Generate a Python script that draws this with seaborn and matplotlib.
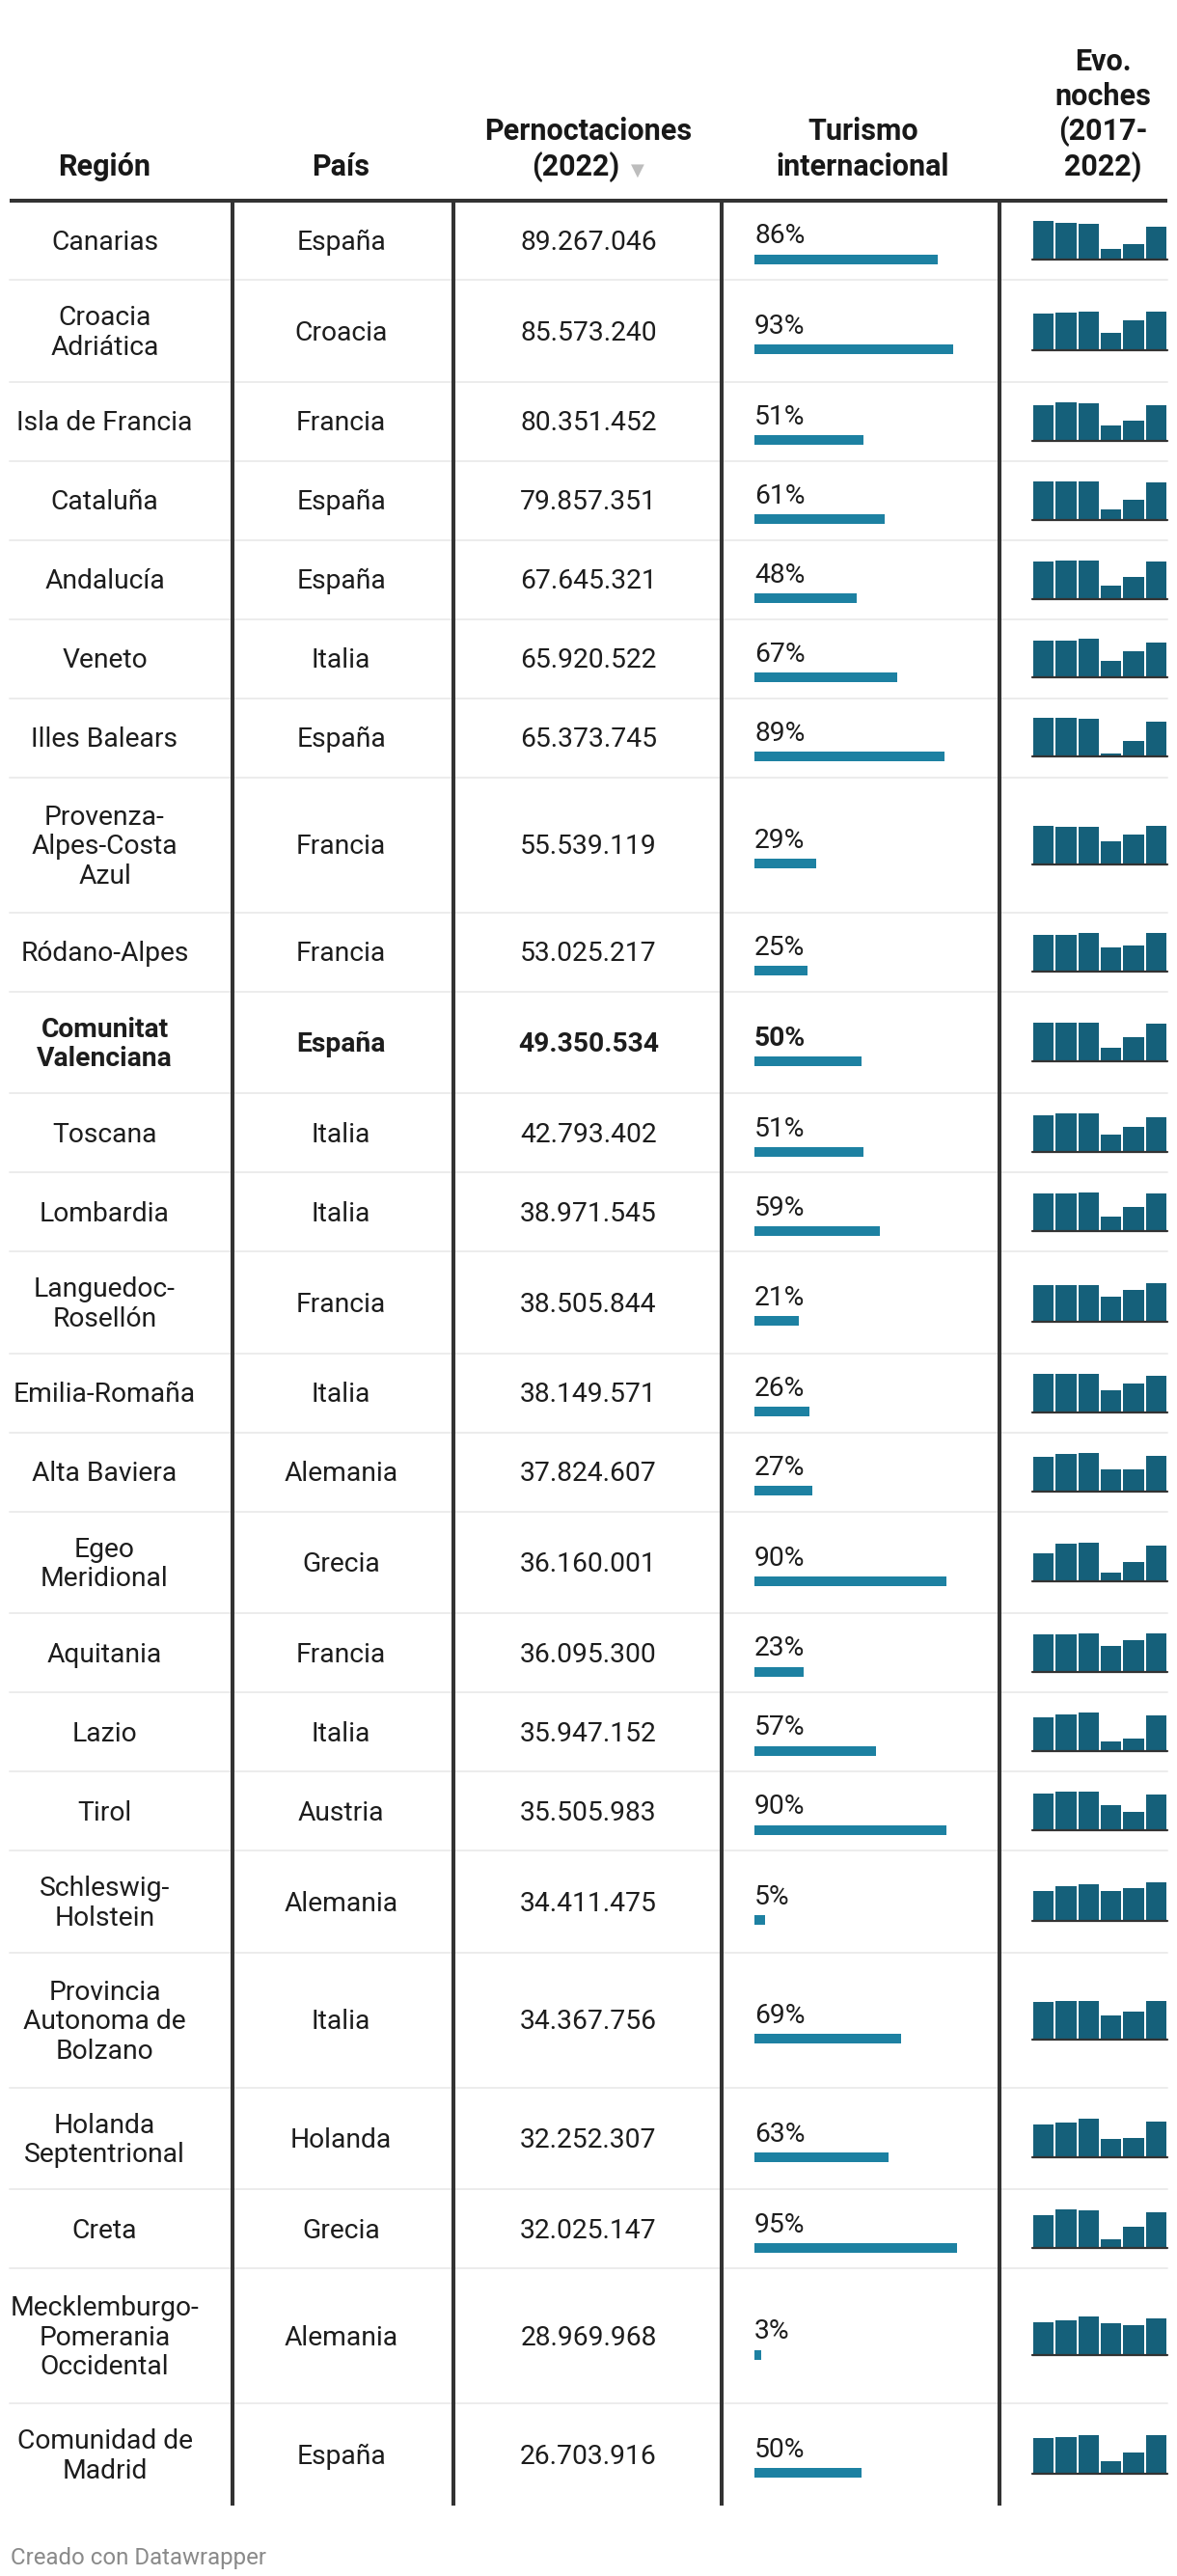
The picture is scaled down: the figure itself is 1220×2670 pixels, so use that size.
import matplotlib
matplotlib.use("Agg")
import matplotlib.pyplot as plt
import seaborn as sns

# Datos de la tabla
regiones = [
    "Canarias", "Croacia\nAdriática", "Isla de Francia", "Cataluña", "Andalucía",
    "Veneto", "Illes Balears", "Provenza-\nAlpes-Costa\nAzul", "Ródano-Alpes",
    "Comunitat\nValenciana", "Toscana", "Lombardia", "Languedoc-\nRosellón",
    "Emilia-Romaña", "Alta Baviera", "Egeo\nMeridional", "Aquitania", "Lazio",
    "Tirol", "Schleswig-\nHolstein", "Provincia\nAutonoma de\nBolzano",
    "Holanda\nSeptentrional", "Creta", "Mecklemburgo-\nPomerania\nOccidental",
    "Comunidad de\nMadrid",
]
paises = [
    "España", "Croacia", "Francia", "España", "España", "Italia", "España",
    "Francia", "Francia", "España", "Italia", "Italia", "Francia", "Italia",
    "Alemania", "Grecia", "Francia", "Italia", "Austria", "Alemania", "Italia",
    "Holanda", "Grecia", "Alemania", "España",
]
pernoctaciones = [
    89267046, 85573240, 80351452, 79857351, 67645321, 65920522, 65373745,
    55539119, 53025217, 49350534, 42793402, 38971545, 38505844, 38149571,
    37824607, 36160001, 36095300, 35947152, 35505983, 34411475, 34367756,
    32252307, 32025147, 28969968, 26703916,
]
pct_internacional = [86, 93, 51, 61, 48, 67, 89, 29, 25, 50, 51, 59, 21, 26,
                     27, 90, 23, 57, 90, 5, 69, 63, 95, 3, 50]

anios = ["2017", "2018", "2019", "2020", "2021", "2022"]
# noches por año (millones, estimadas de las minibarras)
evo_noches = [
    [105.7, 99.8, 97.5, 29.4, 42.3, 89.3],
    [81.8, 83.7, 85.6, 39.0, 66.6, 85.6],
    [80.4, 87.1, 84.2, 32.9, 45.5, 80.4],
    [81.7, 81.7, 83.6, 22.5, 43.2, 79.9],
    [67.6, 69.2, 70.8, 23.1, 40.6, 67.6],
    [69.1, 69.1, 71.5, 31.8, 50.0, 65.9],
    [70.9, 70.9, 69.4, 6.4, 29.5, 65.4],
    [55.5, 53.7, 53.7, 33.1, 42.4, 55.5],
    [50.3, 50.3, 51.7, 32.9, 35.6, 53.0],
    [50.7, 50.7, 50.7, 18.4, 31.6, 49.4],
    [45.2, 47.7, 47.7, 21.4, 31.2, 42.8],
    [39.0, 39.0, 40.0, 14.9, 25.1, 39.0],
    [36.5, 36.5, 36.5, 25.2, 31.6, 38.5],
    [39.2, 40.2, 40.2, 22.2, 29.9, 38.1],
    [36.8, 39.9, 41.0, 22.6, 22.6, 37.8],
    [29.1, 38.2, 39.2, 9.5, 19.6, 36.2],
    [35.2, 35.2, 36.1, 24.3, 29.7, 36.1],
    [34.1, 37.2, 39.0, 9.7, 12.8, 35.9],
    [36.1, 38.5, 38.5, 24.9, 18.3, 35.5],
    [26.3, 30.6, 32.3, 26.3, 29.0, 34.4],
    [32.8, 33.8, 33.8, 21.5, 24.2, 34.4],
    [30.1, 31.7, 34.9, 16.7, 17.7, 32.3],
    [29.9, 34.7, 34.2, 8.0, 18.7, 32.0],
    [26.1, 27.5, 30.4, 25.2, 23.7, 29.0],
    [24.6, 25.4, 26.7, 8.8, 14.2, 26.7],
]
destacada = "Comunitat\nValenciana"

sns.set_theme(style="white")
plt.rcParams["font.family"] = ["Roboto", "DejaVu Sans"]

W, H = 1220, 2670
TXT = "#1d1d1d"
AZUL = "#1d81a2"
OSCURO = "#15607a"
LINEA = "#333333"
FS = 20.3
FS_CAB = 22

fig = plt.figure(figsize=(W / 100, H / 100), dpi=100)
fig.patch.set_facecolor("white")
ax = fig.add_axes([0, 0, 1, 1])
ax.set_xlim(0, W)
ax.set_ylim(H, 0)
ax.axis("off")


def inset(x0, y0, x1, y1):
    # ejes pequeños en coordenadas de pixel (y hacia abajo)
    a = fig.add_axes([x0 / W, 1 - y1 / H, (x1 - x0) / W, (y1 - y0) / H])
    a.patch.set_alpha(0)
    return a


# cabecera
cabeceras = [
    (108.5, ["Región"]),
    (353.5, ["País"]),
    (609.5, ["Pernoctaciones", "(2022)"]),
    (894.5, ["Turismo", "internacional"]),
    (1143.5, ["Evo.", "noches", "(2017-", "2022)"]),
]
for cx, lineas in cabeceras:
    for k, ln in enumerate(lineas[::-1]):
        if ln == "(2022)":
            ax.text(642, 181.5, ln, ha="right", va="baseline",
                    fontsize=FS_CAB, weight="bold", color="#181818")
            continue
        ax.text(cx, 181.5 - k * 36.3, ln, ha="center", va="baseline",
                fontsize=FS_CAB, weight="bold", color="#181818")
ax.text(661, 182, "▼", ha="center", va="baseline", fontsize=13,
        color="#bdbdbd", family="DejaVu Sans")

alto = {1: 82, 2: 105.5, 3: 140}
y = 208
for i, reg in enumerate(regiones):
    lineas = reg.split("\n")
    h = alto[len(lineas)]
    c = y + h / 2
    peso = "bold" if reg == destacada else "normal"

    for k, ln in enumerate(lineas):
        ax.text(108.5, c + 9.8 + (k - (len(lineas) - 1) / 2) * 30.6, ln,
                ha="center", va="baseline", fontsize=FS, weight=peso, color=TXT)
    ax.text(353.5, c + 9.8, paises[i], ha="center", va="baseline",
            fontsize=FS, weight=peso, color=TXT)
    num = f"{pernoctaciones[i]:,}".replace(",", ".")
    ax.text(610, c + 9.8, num, ha="center", va="baseline",
            fontsize=FS, weight=peso, color=TXT)
    ax.text(782, c + 3.5, f"{pct_internacional[i]}%", ha="left", va="baseline",
            fontsize=FS, weight=peso, color=TXT)

    # barra de turismo internacional
    bx = inset(782, c + 14.5, 782 + 221, c + 24.5)
    sns.barplot(x=[pct_internacional[i]], y=[0], orient="h", color=AZUL,
                saturation=1, width=1, linewidth=0, ax=bx)
    bx.set_xlim(0, 100)
    bx.set_ylim(0.5, -0.5)
    bx.axis("off")

    # minigráfico de evolución
    sx = inset(1070, c - 20, 1210, c + 20)
    sns.barplot(x=anios, y=evo_noches[i], color=OSCURO, saturation=1,
                width=0.92, linewidth=0, ax=sx)
    sx.set_xlim(-0.5, 5.5)
    sx.set_ylim(0, max(evo_noches[i]))
    sx.axhline(0, color=LINEA, lw=1.6, clip_on=False)
    sx.axis("off")

    y += h
    if i < len(regiones) - 1:
        ax.plot([10, 1210], [y, y], color="#ececec", lw=1.4, zorder=1)

fin = y
for x in [241, 470, 747.5, 1036]:
    ax.plot([x, x], [208, fin], color=LINEA, lw=2.9, solid_capstyle="butt", zorder=3)
ax.plot([10, 1210], [208, 208], color=LINEA, lw=2.9, solid_capstyle="butt", zorder=3)

ax.text(11, 2658, "Creado con Datawrapper", ha="left", va="baseline",
        fontsize=17.3, color="#8a8a8a")

fig.savefig("out.png", dpi=100, facecolor="white")
